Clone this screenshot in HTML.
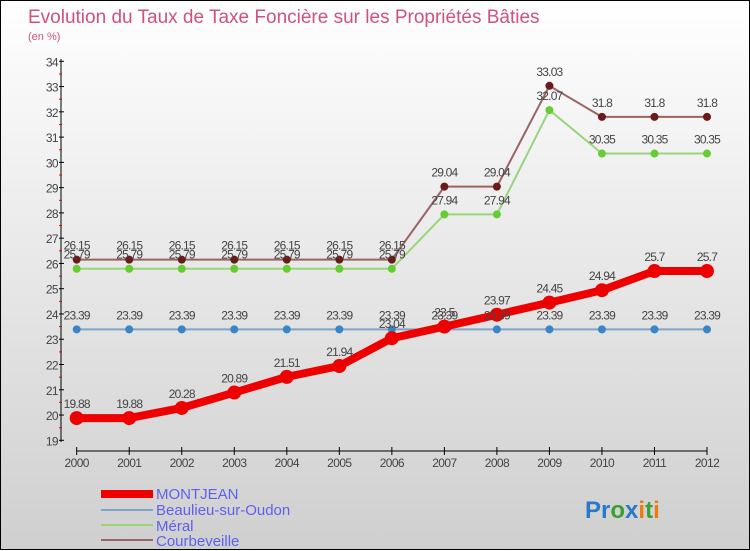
<!DOCTYPE html>
<html><head><meta charset="utf-8">
<style>
html,body{margin:0;padding:0;}
body{width:750px;height:550px;overflow:hidden;font-family:"Liberation Sans",sans-serif;}
#wrap{position:relative;width:748px;height:548px;border:1px solid #000;background:linear-gradient(#ffffff,#cfcfcf);}
svg{position:absolute;left:0;top:0;}
text{font-family:"Liberation Sans",sans-serif;}
</style></head>
<body>
<div id="wrap">
<svg id="chart" width="750" height="550">
<text x="27" y="22" font-size="19" fill="#d0527a">Evolution du Taux de Taxe Foncière sur les Propriétés Bâties</text>
<text x="27" y="39" font-size="11" fill="#d0527a">(en %)</text>
<g>
<rect x="100" y="489" width="52" height="8" fill="#ee0000"/>
<text x="155" y="498" font-size="15" fill="#6060ee">MONTJEAN</text>
<rect x="100" y="508" width="52" height="2" fill="#7fa5c8"/>
<text x="155" y="514" font-size="15" fill="#6060ee">Beaulieu-sur-Oudon</text>
<rect x="100" y="523" width="52" height="2" fill="#99d57a"/>
<text x="155" y="530" font-size="15" fill="#6060ee">Méral</text>
<rect x="100" y="538" width="52" height="2" fill="#9a6464"/>
<text x="155" y="545" font-size="15" fill="#6060ee">Courbeveille</text>
</g>
<g>
<text x="584" y="517" font-size="24" font-weight="bold"><tspan fill="#2a78c8">Pr</tspan><tspan fill="#3aa030">o</tspan><tspan fill="#2a78c8">x</tspan><tspan fill="#f07a10">i</tspan><tspan fill="#3aa030">t</tspan><tspan fill="#f07a10">i</tspan></text>
</g>
</svg>
</div>
<script>
const years=[2000,2001,2002,2003,2004,2005,2006,2007,2008,2009,2010,2011,2012];
const montjean=[19.88,19.88,20.28,20.89,21.51,21.94,23.04,23.5,23.97,24.45,24.94,25.7,25.7];
const beaulieu=[23.39,23.39,23.39,23.39,23.39,23.39,23.39,23.39,23.39,23.39,23.39,23.39,23.39];
const meral=[25.79,25.79,25.79,25.79,25.79,25.79,25.79,27.94,27.94,32.07,30.35,30.35,30.35];
const courbeveille=[26.15,26.15,26.15,26.15,26.15,26.15,26.15,29.04,29.04,33.03,31.8,31.8,31.8];
const yTicks=[19,20,21,22,23,24,25,26,27,28,29,30,31,32,33,34];

const svg=document.getElementById('chart');
const NS='http://www.w3.org/2000/svg';
function xs(i){return 75.7+i*(706-75.7)/(years.length-1);}
function ys(v){return 439.3-(v-19)*(439.3-60.3)/15;}
function mk(tag,attrs){const e=document.createElementNS(NS,tag);for(const k in attrs)e.setAttribute(k,attrs[k]);svg.appendChild(e);return e;}

let ya=mk('line',{x1:60,y1:58,x2:60,y2:441,stroke:'#000','stroke-width':1});


yTicks.forEach(t=>{
  const y=ys(t);
  const tk=mk('line',{x1:58,y1:y,x2:63,y2:y,stroke:'#000'});
  
  
  if(t<34){const m=mk('line',{x1:58,y1:y-12.6,x2:61,y2:y-12.6,stroke:'#e00'});
  
  }
  const lb=mk('text',{x:57,y:y+5,'font-size':12,fill:'#444','text-anchor':'end','letter-spacing':'-0.6'});
  lb.textContent=t;
  
  
});
let xa=mk('line',{x1:xs(0),y1:450,x2:xs(12),y2:450,stroke:'#000'});


years.forEach((yr,i)=>{
  const tk=mk('line',{x1:xs(i),y1:446,x2:xs(i),y2:454,stroke:'#000'});
  
  
  const lb=mk('text',{x:xs(i),y:466,'font-size':12,fill:'#444','text-anchor':'middle','letter-spacing':'-0.6'});
  lb.textContent=yr;
  
  
});
function series(vals,name,lineColor,dotColor,lw,r){
  const pts=vals.map((v,i)=>xs(i)+','+ys(v)).join(' ');
  const pl=mk('polyline',{points:pts,fill:'none',stroke:lineColor,'stroke-width':lw,'stroke-linejoin':'round'});
  
  
  vals.forEach((v,i)=>{
    const c=mk('circle',{cx:xs(i),cy:ys(v),r:r,fill:dotColor});
    
    
  });
}
function labels(vals,name){
  vals.forEach((v,i)=>{
    const t=mk('text',{x:xs(i),y:ys(v)-10,'font-size':12,fill:'#444','text-anchor':'middle','letter-spacing':'-0.8'});
    t.textContent=String(v);
    
    
  });
}
series(beaulieu,'beaulieu','#7fa5c8','#3a85c5',2,4);
series(meral,'meral','#99d57a','#66cc33',2,4);
series(courbeveille,'courbeveille','#9a6464','#6a1a1a',2,4);
series(montjean,'montjean','#ee0000','#ee0000',8,7);
labels(beaulieu,'beaulieu');
labels(meral,'meral');
labels(courbeveille,'courbeveille');
labels(montjean,'montjean');
</script>
</body></html>
